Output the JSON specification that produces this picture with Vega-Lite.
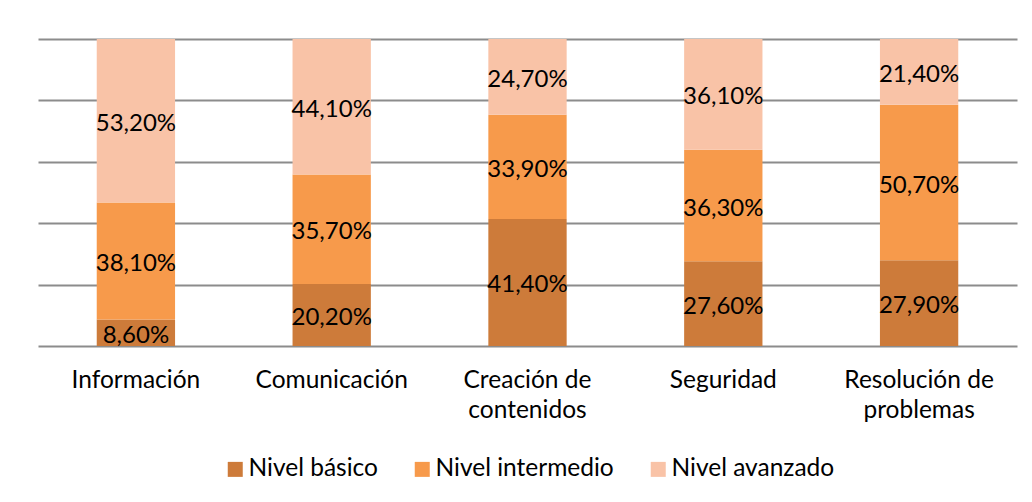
{
  "$schema": "https://vega.github.io/schema/vega-lite/v6.json",
  "width": 979,
  "height": 307,
  "padding": {"left": 38, "top": 39, "right": 15, "bottom": 5},
  "background": "white",
  "config": {
    "font": "Lato",
    "view": {"stroke": null},
    "locale": {"number": {"decimal": ",", "thousands": ".", "grouping": [3], "currency": ["", " €"]}}
  },
  "data": {
    "values": [
      {"categoria": "Información", "nivel": "Nivel básico", "orden": 1, "valor": 8.6},
      {"categoria": "Información", "nivel": "Nivel intermedio", "orden": 2, "valor": 38.1},
      {"categoria": "Información", "nivel": "Nivel avanzado", "orden": 3, "valor": 53.2},
      {"categoria": "Comunicación", "nivel": "Nivel básico", "orden": 1, "valor": 20.2},
      {"categoria": "Comunicación", "nivel": "Nivel intermedio", "orden": 2, "valor": 35.7},
      {"categoria": "Comunicación", "nivel": "Nivel avanzado", "orden": 3, "valor": 44.1},
      {"categoria": "Creación de contenidos", "nivel": "Nivel básico", "orden": 1, "valor": 41.4},
      {"categoria": "Creación de contenidos", "nivel": "Nivel intermedio", "orden": 2, "valor": 33.9},
      {"categoria": "Creación de contenidos", "nivel": "Nivel avanzado", "orden": 3, "valor": 24.7},
      {"categoria": "Seguridad", "nivel": "Nivel básico", "orden": 1, "valor": 27.6},
      {"categoria": "Seguridad", "nivel": "Nivel intermedio", "orden": 2, "valor": 36.3},
      {"categoria": "Seguridad", "nivel": "Nivel avanzado", "orden": 3, "valor": 36.1},
      {"categoria": "Resolución de problemas", "nivel": "Nivel básico", "orden": 1, "valor": 27.9},
      {"categoria": "Resolución de problemas", "nivel": "Nivel intermedio", "orden": 2, "valor": 50.7},
      {"categoria": "Resolución de problemas", "nivel": "Nivel avanzado", "orden": 3, "valor": 21.4}
    ]
  },
  "transform": [
    {"stack": "valor", "groupby": ["categoria"], "sort": [{"field": "orden", "order": "ascending"}], "offset": "normalize", "as": ["y0", "y1"]},
    {"calculate": "(datum.y0 + datum.y1) / 2", "as": "ymid"},
    {"calculate": "datum.valor / 100", "as": "frac"}
  ],
  "encoding": {
    "x": {
      "field": "categoria",
      "type": "nominal",
      "sort": null,
      "scale": {"paddingInner": 0.6, "paddingOuter": 0.3},
      "axis": {
        "title": null,
        "labelAngle": 0,
        "labelFontSize": 24.5,
        "labelColor": "#000000",
        "labelPadding": 22,
        "labelLineHeight": 30,
        "labelLimit": 300,
        "ticks": false,
        "domain": false,
        "labelExpr": "datum.value == 'Creación de contenidos' ? ['Creación de', 'contenidos'] : datum.value == 'Resolución de problemas' ? ['Resolución de', 'problemas'] : datum.label"
      }
    }
  },
  "layer": [
    {
      "mark": {"type": "bar"},
      "encoding": {
        "y": {
          "field": "y0",
          "type": "quantitative",
          "scale": {"domain": [0, 1], "nice": false},
          "axis": {
            "title": null,
            "labels": false,
            "ticks": false,
            "domain": false,
            "values": [0, 0.2, 0.4, 0.6, 0.8, 1],
            "grid": true,
            "gridColor": "#8c8c8c",
            "gridWidth": 2,
            "gridOpacity": 1
          }
        },
        "y2": {"field": "y1"},
        "color": {
          "field": "nivel",
          "type": "nominal",
          "sort": ["Nivel básico", "Nivel intermedio", "Nivel avanzado"],
          "scale": {
            "domain": ["Nivel básico", "Nivel intermedio", "Nivel avanzado"],
            "range": ["#cd7b3a", "#f79a4b", "#f9c3a7"]
          },
          "legend": {
            "title": null,
            "orient": "none",
            "direction": "horizontal",
            "legendX": 185,
            "legendY": 418,
            "symbolType": "square",
            "symbolSize": 225,
            "symbolStrokeWidth": 0,
            "labelFontSize": 24.5,
            "labelLimit": 300,
            "labelColor": "#000000",
            "labelOffset": 1,
            "columnPadding": 32
          }
        }
      }
    },
    {
      "mark": {"type": "text", "fontSize": 24, "color": "#000000", "baseline": "middle", "dy": 3},
      "encoding": {
        "y": {"field": "ymid", "type": "quantitative"},
        "text": {"field": "frac", "type": "quantitative", "format": ".2%"}
      }
    }
  ]
}
